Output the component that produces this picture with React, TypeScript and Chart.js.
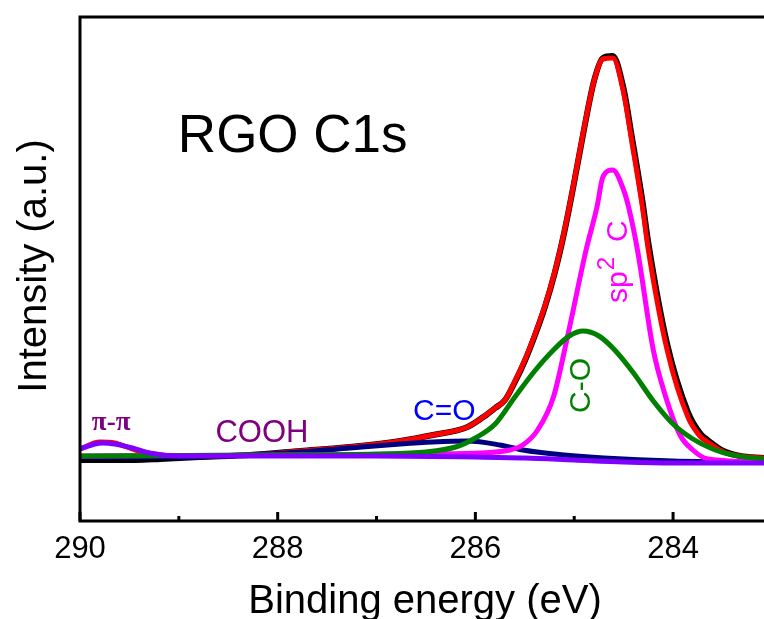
import { useEffect, useRef } from "react";
import { Chart, registerables } from "chart.js";

Chart.register(...registerables);

// ---- data (binding energy in eV, intensity in a.u.) ----
const envelopeEnergy = [290.0, 289.8, 289.65, 289.44, 289.19, 288.79, 288.28, 287.77, 287.27, 286.76, 286.43, 286.08, 285.92, 285.8, 285.7, 285.6, 285.5, 285.4, 285.3, 285.2, 285.1, 285.0, 284.9, 284.8, 284.71, 284.61, 284.5, 284.42, 284.31, 284.25, 284.06, 283.85, 283.72, 283.65, 283.49, 283.32, 283.09];
const envelopeIntensity = [72, 79, 78, 71, 66, 65, 66, 70, 74, 80, 86, 94, 104, 113, 121, 140, 161, 186, 214, 248, 290, 340, 393, 440, 462, 463, 428, 381, 314, 271, 171, 104, 84, 79, 69, 65, 63];
const rawIntensity = [61, 61, 61, 61, 62, 64, 66, 70, 74, 80, 86, 94, 104, 113, 121, 139, 160, 185, 213, 247, 289, 339, 392, 440, 463, 465, 432, 386, 320, 278, 177, 109, 87, 81, 70, 65, 63];

const sp2Energy = [290.0, 287.77, 285.95, 285.65, 285.52, 285.37, 285.21, 285.06, 284.88, 284.77, 284.71, 284.61, 284.5, 284.45, 284.36, 284.2, 284.08, 283.93, 283.8, 283.65, 283.09];
const sp2Intensity = [65, 66, 68, 71, 76, 91, 124, 188, 271, 314, 344, 351, 331, 314, 271, 171, 126, 86, 71, 62, 59];

const coEnergy = [290.0, 288.0, 287.0, 286.5, 286.2, 286.0, 285.8, 285.6, 285.4, 285.2, 285.05, 284.91, 284.75, 284.6, 284.4, 284.2, 284.0, 283.8, 283.6, 283.4, 283.09];
const coIntensity = [65, 66, 67, 69, 74, 83, 97, 124, 150, 172, 185, 190, 185, 172, 148, 120, 97, 82, 72, 66, 62];

const cdoEnergy = [290.0, 289.0, 288.28, 287.77, 287.27, 286.76, 286.43, 286.08, 285.75, 285.52, 285.1, 284.7, 284.0, 283.09];
const cdoIntensity = [64, 64, 66, 69, 73, 77, 79, 80, 76, 71, 66, 63, 60, 59];

const pipiEnergy = [290.0, 289.85, 289.77, 289.65, 289.47, 289.3, 289.0, 288.0, 287.0, 286.0, 285.5, 285.0, 284.5, 284.0, 283.09];
const pipiIntensity = [72, 77, 78, 77, 73, 68, 65, 65, 65, 64, 63, 61, 59, 58, 58];

const tickValues = [290, 289, 288, 287, 286, 285, 284];
const tickLabels = ["290", "", "288", "", "286", "", "284"];

const xMin = 283.08;
const xMax = 290;
const yMin = 0;
const yMax = 504;

const SANS = "'Liberation Sans', Arial, Helvetica, sans-serif";
const SERIF = "'Liberation Serif', 'Times New Roman', serif";

function pts(xs: number[], ys: number[]) {
  return xs.map((x, i) => ({ x, y: ys[i] }));
}

export default function App() {
  const ref = useRef<HTMLCanvasElement | null>(null);

  useEffect(() => {
    document.body.style.margin = "0";
    const canvas = ref.current;
    if (!canvas) return;

    const decor = {
      id: "xpsDecor",
      afterDraw(chart: any) {
        const ctx: CanvasRenderingContext2D = chart.ctx;
        const xs = chart.scales.x;
        const ys = chart.scales.y;
        const { left, right, top, bottom } = chart.chartArea;
        ctx.save();
        // frame
        ctx.strokeStyle = "#000";
        ctx.lineWidth = 3;
        ctx.lineCap = "butt";
        ctx.beginPath();
        ctx.moveTo(right + 2, top);
        ctx.lineTo(left, top);
        ctx.lineTo(left, bottom);
        ctx.lineTo(right + 2, bottom);
        ctx.stroke();
        // inward ticks
        tickValues.forEach((v, i) => {
          const px = xs.getPixelForValue(v);
          const len = tickLabels[i] ? 9 : 5;
          ctx.beginPath();
          ctx.moveTo(px, bottom);
          ctx.lineTo(px, bottom - len);
          ctx.stroke();
        });
        // tick labels
        ctx.fillStyle = "#000";
        ctx.font = `31px ${SANS}`;
        ctx.textAlign = "center";
        ctx.textBaseline = "alphabetic";
        tickValues.forEach((v, i) => {
          if (!tickLabels[i]) return;
          ctx.fillText(tickLabels[i], xs.getPixelForValue(v), bottom + 37);
        });
        // x title
        ctx.font = `40px ${SANS}`;
        ctx.fillText("Binding energy (eV)", (left + right) / 2 + 3, bottom + 92);
        // y title
        ctx.save();
        ctx.translate(46, (top + bottom) / 2 - 3);
        ctx.rotate(-Math.PI / 2);
        ctx.fillText("Intensity (a.u.)", 0, 0);
        ctx.restore();

        // annotations
        ctx.textAlign = "left";
        ctx.font = `53px ${SANS}`;
        ctx.fillStyle = "#000";
        ctx.fillText("RGO C1s", xs.getPixelForValue(289.01), ys.getPixelForValue(369));

        ctx.font = `bold 27px ${SERIF}`;
        ctx.fillStyle = "#800080";
        ctx.fillText("\u03c0-\u03c0", xs.getPixelForValue(289.88), ys.getPixelForValue(91));

        ctx.font = `31px ${SANS}`;
        ctx.fillStyle = "#800080";
        ctx.fillText("COOH", xs.getPixelForValue(288.63), ys.getPixelForValue(79));

        ctx.font = `30px ${SANS}`;
        ctx.fillStyle = "#0000FF";
        ctx.fillText("C=O", xs.getPixelForValue(286.63), ys.getPixelForValue(101));

        // C-O rotated
        ctx.save();
        ctx.translate(xs.getPixelForValue(284.84), ys.getPixelForValue(108));
        ctx.rotate(-Math.PI / 2);
        ctx.font = `30px ${SANS}`;
        ctx.fillStyle = "#008000";
        ctx.fillText("C-O", 0, 0);
        ctx.restore();

        // sp2 C rotated
        ctx.save();
        ctx.translate(xs.getPixelForValue(284.465), ys.getPixelForValue(218));
        ctx.rotate(-Math.PI / 2);
        ctx.fillStyle = "#FF00FF";
        ctx.font = `30px ${SANS}`;
        ctx.fillText("sp", 0, 0);
        const wsp = ctx.measureText("sp").width;
        ctx.font = `24px ${SANS}`;
        ctx.fillText("2", wsp + 1, -13);
        ctx.font = `30px ${SANS}`;
        ctx.fillText("C", 61, 0);
        ctx.restore();

        ctx.restore();
      },
    };

    const common = {
      pointRadius: 0,
      borderWidth: 5,
      fill: false,
      borderJoinStyle: "round" as const,
      borderCapStyle: "round" as const,
      cubicInterpolationMode: "monotone" as const,
    };

    const chart = new Chart(canvas, {
      type: "line",
      data: {
        datasets: [
          { ...common, label: "pi-pi / background", data: pts(pipiEnergy, pipiIntensity), borderColor: "#8000FF" },
          { ...common, label: "C-O", data: pts(coEnergy, coIntensity), borderColor: "#008000" },
          { ...common, label: "sp2 C", data: pts(sp2Energy, sp2Intensity), borderColor: "#FF00FF" },
          { ...common, label: "C=O", data: pts(cdoEnergy, cdoIntensity), borderColor: "#000080" },
          { ...common, label: "Envelope", data: pts(envelopeEnergy, envelopeIntensity), borderColor: "#FF0000" },
          { ...common, label: "Raw", data: pts(envelopeEnergy, rawIntensity), borderColor: "#000000", borderWidth: 6 },
        ],
      },
      options: {
        responsive: false,
        animation: false,
        devicePixelRatio: 1,
        layout: { padding: { left: 80, top: 17, right: 0, bottom: 98 } },
        plugins: { legend: { display: false }, tooltip: { enabled: false }, title: { display: false } },
        scales: {
          x: { type: "linear", reverse: true, min: xMin, max: xMax, display: false },
          y: { type: "linear", min: yMin, max: yMax, display: false },
        },
      },
      plugins: [decor],
    });

    return () => chart.destroy();
  }, []);

  return (
    <canvas
      ref={ref}
      width={764}
      height={619}
      style={{ display: "block", width: "764px", height: "619px" }}
    />
  );
}
